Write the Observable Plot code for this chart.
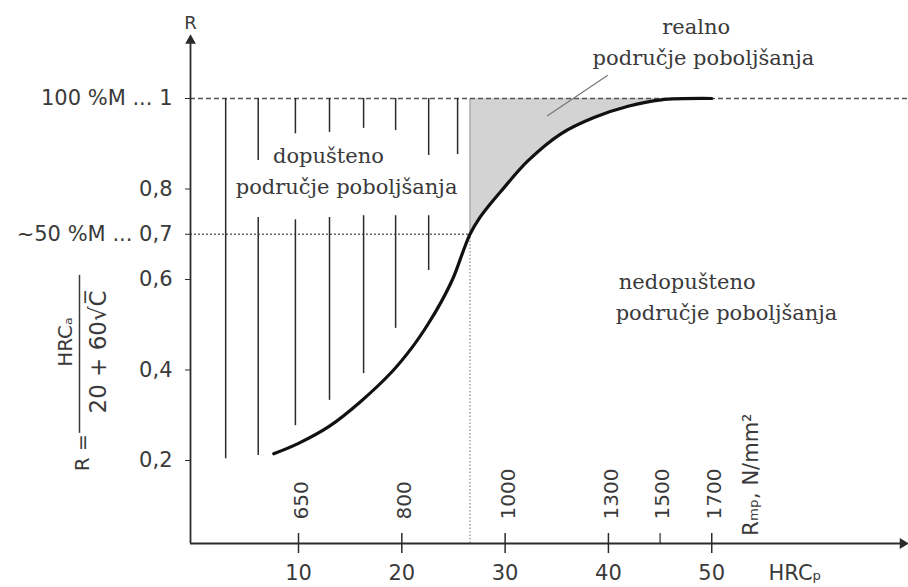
<!DOCTYPE html>
<html><head><meta charset="utf-8">
<script src="https://cdn.jsdelivr.net/npm/d3@7"></script>
<script src="https://cdn.jsdelivr.net/npm/@observablehq/plot@0.6"></script>
<style>body{margin:0;background:#fff}</style>
</head><body><div id="chart"></div>
<script>
// scales
const xDomain = [-0.455, 68.95];
const yDomain = [0.0166, 1.2166];
const yAxisTop = 1.128;

// axis ticks and labels
const hrcTicks = [10, 20, 30, 40, 50];
const rmTickPos = [10, 20, 30, 40, 45, 50];
const rmLabels = ["650", "800", "1000", "1300", "1500", "1700"];
const yTicks = [1, 0.8, 0.7, 0.6, 0.4, 0.2];
const yTickLabels = ["100 %M ... 1", "0,8", "~50 %M ... 0,7", "0,6", "0,4", "0,2"];

// curve R(HRC_p)
const curveHRC = [7.6, 10, 13, 16, 19, 21, 22.5, 23.8, 25, 25.9, 26.6, 27.5, 28.5, 29.6, 32.2, 35.4, 38.6, 41.9, 45.1, 50];
const curveR   = [0.215, 0.238, 0.276, 0.33, 0.395, 0.45, 0.5, 0.55, 0.605, 0.66, 0.70, 0.735, 0.765, 0.795, 0.862, 0.922, 0.958, 0.983, 0.997, 1.0];

// critical point
const critHRC = 26.6;
const critR = 0.7;

// hatch lines in the permitted region
const hatchX    = [2.95, 6.1, 9.7, 13.0, 16.3, 19.4, 22.6, 25.4, 6.1, 9.7, 13.0, 16.3, 19.4, 22.6];
const hatchFrom = [1, 1, 1, 1, 1, 1, 1, 1, 0.737, 0.732, 0.737, 0.741, 0.741, 0.741];
const hatchTo   = [0.204, 0.863, 0.922, 0.925, 0.934, 0.929, 0.874, 0.876, 0.211, 0.277, 0.333, 0.392, 0.492, 0.62];

// region labels (centred)
const regionText = ["dopušteno", "područje poboljšanja", "realno", "područje poboljšanja"];
const regionX    = [12.9, 14.65, 48.5, 49.2];
const regionY    = [0.872, 0.803, 1.157, 1.088];
// region labels (left aligned)
const region2Text = ["nedopušteno", "područje poboljšanja"];
const region2X    = [41.0, 40.7];
const region2Y    = [0.593, 0.525];

// leader line
const leaderHRC = [39.9, 34.1];
const leaderR = [1.051, 0.962];

// formula annotation on y axis
const formulaText = ["R =", "HRCₐ"];
const formulaX = [-10.9, -12.5];
const formulaY = [0.217, 0.462];
const denomText = ["20 + 60√C̅"];
const denomX = [-9.35];
const denomY = [0.44];
const fracBar = {x: -11.2, y1: 0.26, y2: 0.609};

const curve = curveHRC.map((x, i) => ({x, r: curveR[i]}));
const shade = curve.filter(d => d.x >= critHRC);
const hatch = hatchX.map((x, i) => ({x, y1: hatchFrom[i], y2: hatchTo[i]}));
const regions = regionText.map((t, i) => ({t, x: regionX[i], y: regionY[i]}));
const regions2 = region2Text.map((t, i) => ({t, x: region2X[i], y: region2Y[i]}));
const rm = rmTickPos.map((x, i) => ({x, t: rmLabels[i]}));
const formula = formulaText.map((t, i) => ({t, x: formulaX[i], y: formulaY[i]}));
const denom = denomText.map((t, i) => ({t, x: denomX[i], y: denomY[i]}));

const ink = "#2b2b2b";
const txt = "#3a3a3a";

const chart = Plot.plot({
  width: 908, height: 587,
  marginTop: 0, marginLeft: 190, marginRight: 1, marginBottom: 44,
  x: {domain: xDomain, axis: null},
  y: {domain: yDomain, axis: null},
  style: {fontFamily: "DejaVu Sans", fontSize: "20px", color: txt, background: "#fff"},
  marks: [
    // shaded real region
    Plot.areaY(shade, {x: "x", y1: "r", y2: 1, curve: "catmull-rom", fill: "#d3d3d3"}),
    Plot.ruleX([critHRC], {y1: critR, y2: 1, stroke: "#999", strokeWidth: 1}),
    // reference lines
    Plot.ruleY([1], {x1: xDomain[0], x2: xDomain[1], stroke: "#555", strokeWidth: 1.6, strokeDasharray: "5,3"}),
    Plot.ruleY([critR], {x1: xDomain[0], x2: critHRC, stroke: "#666", strokeWidth: 1.5, strokeDasharray: "2,2"}),
    Plot.ruleX([critHRC], {y1: yDomain[0], y2: critR, stroke: "#888", strokeWidth: 1.2, strokeDasharray: "1.5,2"}),
    // hatch
    Plot.ruleX(hatch, {x: "x", y1: "y1", y2: "y2", stroke: ink, strokeWidth: 1.5}),
    // curve
    Plot.line(curve, {x: "x", y: "r", curve: "catmull-rom", stroke: "#111", strokeWidth: 3.2}),
    // leader
    Plot.line(leaderHRC.map((x, i) => ({x, y: leaderR[i]})), {x: "x", y: "y", stroke: "#777", strokeWidth: 1.2}),
    // axes lines
    Plot.ruleX([xDomain[0]], {y1: yDomain[0], y2: yAxisTop, stroke: ink, strokeWidth: 1.8}),
    Plot.ruleY([yDomain[0]], {x1: xDomain[0], x2: 68.6, stroke: ink, strokeWidth: 1.8}),
    Plot.dot([[xDomain[0], yAxisTop]], {symbol: "triangle", r: 4, fill: ink, stroke: null}),
    Plot.dot([[68.5, yDomain[0]]], {symbol: "triangle", r: 4, fill: ink, stroke: null, rotate: 90}),
    // y axis
    Plot.axisY(yTicks, {anchor: "left", label: null, tickSize: 5, tickPadding: 13, tickFormat: d => yTickLabels[yTicks.indexOf(d)], fontSize: 21, fill: txt, stroke: ink}),
    // x axis tick marks
    Plot.axisX(hrcTicks, {anchor: "bottom", label: null, tickSize: 20, dy: -10, tickFormat: () => "", stroke: ink, strokeWidth: 1.5}),
    Plot.axisX([45], {anchor: "bottom", label: null, tickSize: 10, dy: -10, tickFormat: () => "", stroke: ink, strokeWidth: 1.2}),
    Plot.axisX(hrcTicks, {anchor: "bottom", label: null, tickSize: 0, tickPadding: 22, fontSize: 21, fill: txt}),
    Plot.text(["HRCₚ"], {x: 55.5, y: -0.05, textAnchor: "start", fontSize: 21, fill: txt}),
    Plot.text(["R"], {x: xDomain[0], y: 1.166, fontSize: 18, fill: txt}),
    // Rm labels
    Plot.text(rm, {x: "x", y: 0.0696, text: "t", rotate: -90, textAnchor: "start", dx: 3, fontSize: 20, fill: txt}),
    Plot.text(["Rₘₚ, N/mm²"], {x: 53.8, y: 0.034, rotate: -90, textAnchor: "start", fontSize: 21, fill: txt}),
    // region labels
    Plot.text(regions, {x: "x", y: "y", text: "t", textAnchor: "middle", fontFamily: "DejaVu Serif", fontSize: 21, fill: txt}),
    Plot.text(regions2, {x: "x", y: "y", text: "t", textAnchor: "start", fontFamily: "DejaVu Serif", fontSize: 21, fill: txt}),
    // formula
    Plot.text(formula, {x: "x", y: "y", text: "t", rotate: -90, fontSize: 20, fill: txt}),
    Plot.text(denom, {x: "x", y: "y", text: "t", rotate: -90, fontSize: 23, fill: txt}),
    Plot.ruleX([fracBar.x], {y1: fracBar.y1, y2: fracBar.y2, stroke: txt, strokeWidth: 1.5})
  ]
});
document.getElementById("chart").appendChild(chart);
</script>
</body></html>
